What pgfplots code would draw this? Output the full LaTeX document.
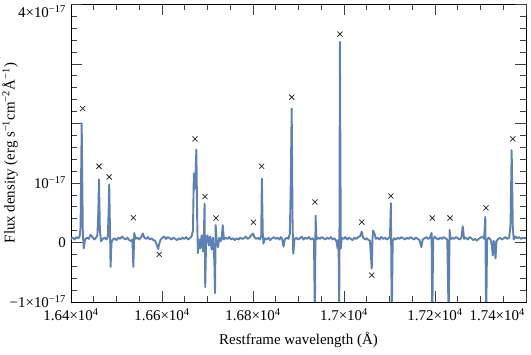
\documentclass[border=0pt]{standalone}
\usepackage{fontspec}
\setmainfont{Liberation Serif}
\usepackage{pgfplots}
\pgfplotsset{compat=1.18}
\definecolor{mmablue}{rgb}{0.368417,0.506779,0.709798}

\pgfplotstableread{
x y
16400 0.06
16404 0.08
16408 0.05
16412 0.09
16416 0.07
16419 0.10
16421 0.25
16423.5 2.00
16426 0.15
16428 -0.10
16431 0.05
16435 0.08
16439 0.06
16443 0.13
16447 0.09
16451 0.05
16455 0.08
16458 0.12
16460 0.50
16461.5 1.06
16463.5 0.20
16466 0.02
16470 0.06
16474 0.08
16478 0.05
16481 0.10
16483 0.60
16484 0.975
16485.5 0.30
16487 -0.41
16489 0.00
16492 0.05
16496 0.07
16500 0.04
16504 0.08
16508 0.06
16512 0.10
16516 0.07
16520 0.05
16524 0.08
16528 0.04
16532 0.02
16535 0.05
16537 -0.41
16539 0.16
16542 0.06
16546 0.08
16550 0.05
16554 0.09
16558 0.15
16561 0.08
16565 0.06
16569 0.09
16573 0.05
16577 0.07
16581 0.04
16585 0.03
16589 -0.05
16591.5 -0.11
16594 -0.02
16597 0.05
16601 0.08
16605 0.10
16609 0.06
16613 0.09
16617 0.07
16621 0.05
16625 0.08
16629 0.06
16633 0.04
16637 0.07
16641 0.05
16645 0.08
16649 0.06
16653 0.09
16657 0.05
16661 0.07
16665 0.10
16668 0.20
16670 1.16
16672 0.90
16674 1.20
16675.5 1.56
16677.5 0.30
16679 -0.18
16681 0.05
16684 -0.10
16687 0.12
16690 -0.15
16692 0.10
16693.5 0.65
16695 -0.75
16697 0.05
16700 0.12
16703 -0.05
16706 0.10
16709 -0.12
16712 0.08
16715 -0.30
16716.5 -0.85
16718 0.29
16720 0.05
16723 -0.08
16726 0.08
16729 0.02
16731 0.06
16733.5 0.29
16736 0.05
16740 0.08
16744 0.06
16748 0.09
16752 0.05
16756 0.07
16760 0.04
16764 0.07
16768 0.05
16772 0.08
16776 0.06
16780 0.07
16784 0.10
16788 0.06
16792 0.08
16796 0.12
16800 0.15
16803 0.09
16807 0.06
16811 0.08
16815 0.05
16818 0.10
16819.5 1.07
16821.5 0.15
16823 -0.02
16826 0.07
16830 0.05
16834 0.08
16838 0.04
16842 0.07
16846 0.09
16850 0.06
16854 0.08
16858 0.05
16861 0.09
16864 0.06
16867 -0.07
16870 0.05
16874 0.08
16878 0.06
16881 0.15
16883 1.00
16885 2.25
16887 0.30
16888.5 -0.19
16891 0.05
16895 0.08
16899 0.05
16903 0.07
16907 0.10
16911 0.05
16915 0.08
16919 0.06
16923 0.09
16927 0.05
16931 0.07
16934 0.04
16936 -1.30
16937.5 0.45
16939.5 0.05
16943 0.08
16947 0.06
16951 0.09
16955 0.07
16959 0.05
16963 0.08
16967 0.06
16971 0.09
16975 0.05
16979 0.07
16983 0.03
16986 -0.10
16988 0.05
16989.5 -1.30
16991 3.37
16993 -0.10
16995 0.08
16999 0.06
17003 0.09
17007 0.05
17011 0.08
17015 0.06
17019 0.04
17023 0.08
17027 0.06
17031 0.09
17035 0.10
17039 0.18
17042 0.08
17046 0.05
17050 0.07
17054 0.04
17057 0.03
17059 -0.20
17061 -0.44
17062.5 0.05
17064 0.20
17067 0.15
17070 0.06
17074 0.08
17078 0.05
17082 0.09
17086 0.06
17090 0.08
17094 0.05
17098 0.07
17101 0.10
17103 0.66
17105 -1.30
17107 0.02
17110 0.07
17114 0.05
17118 0.08
17122 0.06
17126 0.09
17130 0.07
17134 0.05
17138 0.08
17142 0.06
17146 0.09
17150 0.07
17154 0.05
17158 0.08
17162 0.06
17166 0.04
17170 -0.08
17173 0.05
17177 0.07
17181 0.09
17185 0.06
17189 0.08
17192.5 0.16
17194 -1.30
17196 0.05
17199 0.10
17203 0.07
17207 0.05
17211 0.08
17215 0.06
17219 0.09
17223 0.07
17227 0.05
17230 -1.30
17232 0.21
17234 0.05
17238 0.08
17242 0.06
17246 0.09
17250 0.07
17254 0.05
17258 0.08
17261 0.27
17264 0.06
17268 0.08
17272 0.05
17276 0.09
17280 0.07
17284 0.04
17288 0.06
17292 0.03
17296 0.06
17300 0.08
17304 0.10
17308 0.06
17310.5 0.43
17312.5 -1.30
17314.5 0.05
17318 0.08
17322 0.05
17325 -0.05
17327 -0.22
17329 0.03
17331 -0.05
17333 -0.27
17335 0.02
17339 0.06
17343 0.08
17347 0.05
17351 0.07
17355 0.09
17359 0.06
17363 0.08
17366 0.30
17368.5 1.55
17371 0.25
17373 0.05
17377 0.10
17381 0.07
17385 0.09
17389 0.06
17393 0.08
17397 0.07
17400 0.08
}\spectrum

\pgfplotstableread{
x y
16425.7 2.25
16461.5 1.28
16484 1.10
16537 0.415
16594 -0.20
16672.5 1.74
16694.5 0.77
16718.7 0.41
16800.7 0.34
16819 1.28
16885 2.44
16936 0.68
16991 3.50
17039 0.34
17061 -0.55
17103 0.78
17194 0.41
17233 0.41
17312 0.58
17371 1.74
}\lines

\begin{document}
\fontsize{15}{18}\selectfont
\begin{tikzpicture}
\useasboundingbox (-71bp,-52.3bp) rectangle (460bp,302bp);
\begin{axis}[
  at={(0,0)}, anchor=south west,
  scale only axis, width=455bp, height=297.7bp,
  xmin=16400, xmax=17400, ymin=-1, ymax=4,
  scaled x ticks=false, scaled y ticks=false,
  xtick={16400,16600,16800,17000,17200},
  xticklabels={1.64×10\textsuperscript{4},1.66×10\textsuperscript{4},1.68×10\textsuperscript{4},1.7×10\textsuperscript{4},1.72×10\textsuperscript{4}},
  xticklabel style={yshift=-1bp},
  extra x ticks={17400},
  extra x tick labels={1.74×10\textsuperscript{4}},
  extra x tick style={xticklabel style={anchor=north east, xshift=4bp}},
  minor xtick={16400,16450,...,17400},
  ytick={-1,0,1,2,3},
  yticklabels={−1×10\textsuperscript{−17},0,10\textsuperscript{−17},,},
  extra y ticks={4},
  extra y tick labels={4×10\textsuperscript{−17}},
  extra y tick style={yticklabel style={yshift=-7bp}},
  minor ytick={-1,-0.8,...,4},
  tick align=inside,
  major tick length=11bp, minor tick length=6bp,
  every tick/.style={black!75, line width=0.6bp},
  axis line style={line width=0.9bp},
  every axis x label/.style={at={(axis description cs:0.5,-0.1287)}, anchor=center},
  every axis y label/.style={at={(axis description cs:-0.134,0.5)}, rotate=90, anchor=center},
  xlabel={Restframe wavelength (Å)},
  ylabel={Flux density (erg s\textsuperscript{−1}cm\textsuperscript{−2}Å\textsuperscript{−1})},
]
\addplot[mmablue, line width=1.9bp, line join=round] table[x=x, y=y] {\spectrum};
\addplot[only marks, mark=x, mark size=3.6bp, black!85, mark options={line width=0.75bp}] table[x=x, y=y] {\lines};
\end{axis}
\end{tikzpicture}
\end{document}
